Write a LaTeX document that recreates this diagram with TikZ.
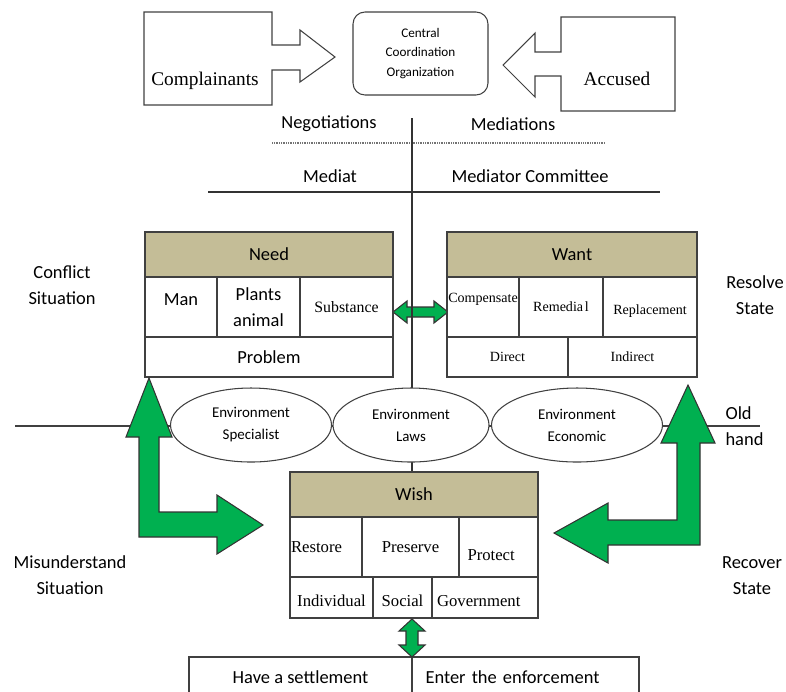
\documentclass[tikz,border=0pt]{standalone}
\usepackage{fontspec}
\setmainfont{Liberation Serif}
\setsansfont{Carlito}
\usepackage{xcolor}
\usepackage{tikz}
\usetikzlibrary{shapes,positioning,calc}
\definecolor{headtan}{HTML}{C4BD97}
\definecolor{arrowgreen}{HTML}{00B050}
\newcommand{\px}{0.02cm}

\begin{document}
\begin{tikzpicture}[x=0.02cm, y=-0.02cm, line width=0.6pt,
    cell/.style={draw=black!75, fill=white, inner sep=0pt, align=center, font=\sffamily\fontsize{10.5}{14.7}\selectfont},
    headcell/.style={cell, fill=headtan},
    tcell/.style={cell, font=\rmfamily\fontsize{8}{10}\selectfont},
    wcell/.style={cell, font=\rmfamily\fontsize{9.5}{11}\selectfont},
    envnode/.style={ellipse, draw=black!75, fill=white, inner sep=0pt, align=center, font=\sffamily\fontsize{8.5}{12.5}\selectfont},
    lbl/.style={align=center, inner sep=0pt, font=\sffamily\fontsize{10.5}{14.7}\selectfont},
    party/.style={inner sep=0pt, font=\rmfamily\fontsize{11}{13}\selectfont},
    bigarrow/.style={draw=black!80, fill=arrowgreen, line join=miter}]
    \useasboundingbox (0,0) rectangle (786,691);

    % Parties and coordination
    \draw[draw=black!75] (144,12) -- (272,12) -- (272,45) -- (300,45) -- (300,30) -- (335,57)
        -- (300,82) -- (300,70) -- (272,70) -- (272,105) -- (144,105) -- cycle;
    \draw[draw=black!75] (675,17) -- (561,17) -- (561,52) -- (535,52) -- (535,33) -- (503,65)
        -- (535,97) -- (535,76) -- (561,76) -- (561,111) -- (675,111) -- cycle;
    \node[party] (compl) at (205,81) {Complainants};
    \node[party] (accused) at (617,79) {Accused};
    \node[cell, rounded corners=0.24cm, minimum width=135*\px, minimum height=83*\px,
        font=\sffamily\fontsize{7.5}{11.3}\selectfont] (central) at (420.5,53.5)
        {Central\\Coordination\\Organization};

    % Negotiation lines
    \node[lbl] (nego) at (329,124) {Negotiations};
    \node[lbl] (media) at (513,124) {Mediations};
    \node[lbl] (mediat) at (330,176) {Mediat};
    \node[lbl] (mcomm) at (530,176) {Mediator Committee};
    \coordinate (dotL) at (272,143);
    \coordinate (dotR) at (605,143);
    \draw[black!55, line width=0.8pt, dash pattern=on 0.5pt off 0.5pt] (dotL) -- (dotR);
    \coordinate (solL) at (208,192);
    \coordinate (solR) at (660,192);
    \draw[black!80] (solL) -- (solR);

    % Environment line
    \coordinate (envL) at (15,426);
    \coordinate (envR) at (760,426);
    \draw[black!75] (envL) -- (envR);

    % Need - Want arrow
    \draw[bigarrow] (393,312) -- (407,301) -- (407,307) -- (434,307) -- (434,301) -- (448,312)
        -- (434,323) -- (434,317) -- (407,317) -- (407,323) -- cycle;

    % Centre line
    \coordinate (vtop) at (412,118);
    \coordinate (vbot) at (412,472);
    \draw[black!80] (vtop) -- (vbot);

    % Environment
    \node[envnode, minimum width=161*\px, minimum height=74*\px] (envSpec) at (251,425) {Environment\\Specialist};
    \node[envnode, minimum width=156*\px, minimum height=74*\px] (envLaw) at (411,425) {Environment\\Laws};
    \node[envnode, minimum width=171*\px, minimum height=74*\px] (envEco) at (577,425) {Environment\\Economic};

    % Need
    \node[headcell, minimum width=248*\px, minimum height=45*\px] (needH) at (269,254.5) {Need};
    \node[cell, minimum width=72*\px, minimum height=60*\px, text depth=9pt] (needMan) at (181,307) {Man};
    \node[cell, minimum width=83*\px, minimum height=60*\px] (needPlant) at (258.5,307) {Plants\\animal};
    \node[cell, minimum width=93*\px, minimum height=60*\px, font=\rmfamily\fontsize{9}{11}\selectfont] (needSub) at (346.5,307) {Substance};
    \node[cell, minimum width=248*\px, minimum height=40*\px] (needProb) at (269,357) {Problem};

    % Want
    \node[headcell, minimum width=250*\px, minimum height=45*\px] (wantH) at (572,254.5) {Want};
    \node[tcell, minimum width=72*\px, minimum height=60*\px, text depth=11pt] (wantComp) at (483,307) {Compensate};
    \node[tcell, minimum width=84*\px, minimum height=60*\px] (wantRem) at (561,307) {Remedia\kern1pt l};
    \node[tcell, minimum width=94*\px, minimum height=60*\px, text height=10pt] (wantRep) at (650,307) {Replacement};
    \node[tcell, minimum width=121*\px, minimum height=40*\px] (wantDir) at (507.5,357) {Direct};
    \node[tcell, minimum width=129*\px, minimum height=40*\px] (wantInd) at (632.5,357) {Indirect};

    % Wish
    \node[headcell, minimum width=248*\px, minimum height=45*\px] (wishH) at (414,494.5) {Wish};
    \node[wcell, minimum width=72*\px, minimum height=60*\px, text width=70*\px, align=left] (wishRest) at (326,547) {Restore};
    \node[wcell, minimum width=97*\px, minimum height=60*\px] (wishPres) at (410.5,547) {Preserve};
    \node[wcell, minimum width=79*\px, minimum height=60*\px, text width=62*\px, align=left, text height=15pt] (wishProt) at (498.5,547) {Protect};
    \node[wcell, minimum width=83*\px, minimum height=41*\px, text height=10pt] (wishInd) at (331.5,597.5) {Individual};
    \node[wcell, minimum width=59*\px, minimum height=41*\px, text height=10pt] (wishSoc) at (402.5,597.5) {Social};
    \node[wcell, minimum width=106*\px, minimum height=41*\px, text height=10pt, text width=96*\px, align=left] (wishGov) at (485,597.5) {Government};

    % Outcome
    \node[cell, minimum width=223*\px, minimum height=41*\px] (settle) at (300.5,677.5) {Have a settlement};
    \node[cell, minimum width=227*\px, minimum height=41*\px, text width=200*\px, align=left] (enforce) at (525.5,677.5) {Enter the enforcement};

    % Green arrows
    \draw[bigarrow] (149,378) -- (172,437) -- (159,437) -- (159,512) -- (217,512) -- (217,495)
        -- (263,525) -- (217,554) -- (217,537) -- (139,537) -- (139,437) -- (126,437) -- cycle;
    \draw[bigarrow] (688,385) -- (715,443) -- (700,443) -- (700,545) -- (608,545) -- (608,563)
        -- (554,533) -- (608,503) -- (608,520) -- (677,520) -- (677,443) -- (661,443) -- cycle;
    \draw[bigarrow] (412,619) -- (425,631) -- (418,631) -- (418,645) -- (425,645) -- (412,657)
        -- (399,645) -- (406,645) -- (406,631) -- (399,631) -- cycle;

    % Side labels
    \node[lbl] (conflict) at (62,285.5) {Conflict\\Situation};
    \node[lbl] (resolve) at (755,295) {Resolve\\State};
    \node[lbl] (misund) at (70,575.5) {Misunderstand\\Situation};
    \node[lbl] (recover) at (752,575.5) {Recover\\State};
    \node[lbl, anchor=west, align=left] (oldhand) at (725,426) {Old\\hand};
\end{tikzpicture}
\end{document}
